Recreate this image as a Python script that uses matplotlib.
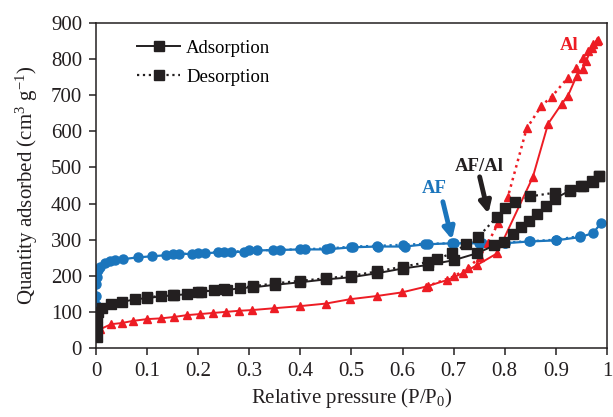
import matplotlib
matplotlib.use("Agg")
import matplotlib.pyplot as plt
from matplotlib.lines import Line2D

plt.rcParams['font.family'] = ['Liberation Serif', 'DejaVu Serif']
plt.rcParams['mathtext.fontset'] = 'custom'
plt.rcParams['mathtext.rm'] = 'Liberation Serif'
plt.rcParams['mathtext.it'] = 'Liberation Serif:italic'

# ---- data ----
af_ads_x = [0.0, 0.0, 0.0005, 0.002, 0.004, 0.008, 0.018, 0.027, 0.037, 0.053, 0.082, 0.11, 0.137,
            0.163, 0.188, 0.213, 0.239, 0.264, 0.29, 0.30, 0.347, 0.40, 0.45, 0.503, 0.552, 0.605,
            0.644, 0.697, 0.755, 0.80, 0.848, 0.90, 0.947, 0.973, 0.988]
af_ads_y = [119, 144, 177, 196, 215, 224, 235, 240, 243, 246, 251, 254, 257,
            260, 261, 262, 265, 265, 267, 270, 271, 273, 273, 279, 281, 281,
            287, 290, 290, 290, 295, 298, 307, 318, 345]
af_des_x = [0.947, 0.90, 0.85, 0.80, 0.75, 0.70, 0.65, 0.60, 0.55, 0.50, 0.458, 0.41, 0.36,
            0.315, 0.25, 0.20, 0.15]
af_des_y = [310, 300, 296, 292, 291, 290, 289, 286, 283, 281, 276, 274, 272,
            270, 266, 263, 259]

afal_ads_x = [0.002, 0.002, 0.002, 0.004, 0.012, 0.03, 0.05, 0.076, 0.10, 0.127, 0.153, 0.178,
              0.205, 0.231, 0.256, 0.282, 0.308, 0.35, 0.40, 0.45, 0.50, 0.55, 0.60, 0.65, 0.70,
              0.745, 0.78, 0.798, 0.816, 0.831, 0.847, 0.863, 0.881, 0.898, 0.928, 0.953, 0.973, 0.985]
afal_ads_y = [30, 58, 86, 99, 110, 121, 127, 135, 138, 143, 146, 149,
              155, 160, 160, 166, 168, 175, 182, 190, 196, 207, 220, 230, 243,
              262, 284, 293, 317, 334, 351, 372, 392, 414, 436, 450, 459, 475]
afal_des_x = [0.985, 0.97, 0.95, 0.928, 0.898, 0.85, 0.82, 0.80, 0.784, 0.748, 0.725, 0.696,
              0.667, 0.65, 0.60, 0.55, 0.50, 0.45, 0.40, 0.35, 0.308, 0.25, 0.20, 0.15, 0.10]
afal_des_y = [475, 462, 448, 438, 430, 420, 403, 387, 362, 307, 287, 262,
              246, 238, 225, 212, 200, 193, 186, 179, 171, 162, 156, 148, 140]

al_ads_x = [0.001, 0.008, 0.03, 0.05, 0.072, 0.10, 0.127, 0.153, 0.178, 0.204, 0.229, 0.254,
            0.28, 0.305, 0.348, 0.40, 0.45, 0.497, 0.55, 0.599, 0.646, 0.687, 0.718, 0.745,
            0.785, 0.855, 0.885, 0.912, 0.924, 0.941, 0.953, 0.96, 0.97, 0.98]
al_ads_y = [45, 52, 66, 69, 75, 80, 82, 86, 91, 94, 97, 100,
            103, 105, 110, 116, 123, 135, 144, 154, 170, 188, 207, 229,
            262, 473, 621, 677, 699, 754, 773, 796, 832, 851]
al_des_x = [0.983, 0.973, 0.963, 0.953, 0.94, 0.924, 0.892, 0.872, 0.843, 0.806, 0.787, 0.767,
            0.751, 0.728, 0.70, 0.65]
al_des_y = [853, 842, 823, 804, 776, 749, 696, 671, 608, 417, 345, 290,
            252, 221, 198, 172]

xticks = [0, 0.1, 0.2, 0.3, 0.4, 0.5, 0.6, 0.7, 0.8, 0.9, 1.0]
xtick_labels = ["0", "0.1", "0.2", "0.3", "0.4", "0.5", "0.6", "0.7", "0.8", "0.9", "1"]
yticks = [0, 100, 200, 300, 400, 500, 600, 700, 800, 900]

BLACK = '#231f20'
BLUE = '#1b75bc'
RED = '#ed1c24'

fig = plt.figure(figsize=(6.13, 4.17), dpi=100)
ax = fig.add_axes([0.1566, 0.1655, 0.8334, 0.7793])

# AF (blue)
ax.plot(af_des_x, af_des_y, ls=':', color=BLUE, lw=1.6, marker='o', ms=6.5, mec=BLUE, mfc=BLUE, zorder=2)
ax.plot(af_ads_x, af_ads_y, ls='-', color=BLUE, lw=1.6, marker='o', ms=6.5, mec=BLUE, mfc=BLUE, zorder=2)
# Al (red)
ax.plot(al_des_x, al_des_y, ls=':', color=RED, lw=1.8, marker='^', ms=5.5, mec=RED, mfc=RED, zorder=3)
ax.plot(al_ads_x, al_ads_y, ls='-', color=RED, lw=1.4, marker='^', ms=5.5, mec=RED, mfc=RED, zorder=3)
# AF/Al (black)
ax.plot(afal_des_x, afal_des_y, ls=':', color=BLACK, lw=1.6, marker='s', ms=6.5, mec=BLACK, mfc=BLACK, zorder=4)
ax.plot(afal_ads_x, afal_ads_y, ls='-', color=BLACK, lw=1.4, marker='s', ms=6.5, mec=BLACK, mfc=BLACK, zorder=4)

ax.set_xlim(0, 1)
ax.set_ylim(0, 900)
ax.set_xticks(xticks)
ax.set_xticklabels(xtick_labels)
ax.set_yticks(yticks)
ax.tick_params(direction='out', length=5, width=1.1, labelsize=15, colors=BLACK, pad=5)
for s in ax.spines.values():
    s.set_linewidth(1.1)
    s.set_color(BLACK)

ax.set_xlabel('Relative pressure (P/P$_0$)', fontsize=15, color=BLACK, labelpad=4)
ax.set_ylabel('Quantity adsorbed (cm$^3$ g$^{-1}$)', fontsize=15, color=BLACK, labelpad=8)

# annotations
ax.text(0.663, 442, 'AF', color=BLUE, fontsize=13.5, fontweight='bold', ha='center', va='center')
ax.text(0.75, 503, 'AF/Al', color=BLACK, fontsize=13.5, fontweight='bold', ha='center', va='center')
ax.text(0.927, 837, 'Al', color=RED, fontsize=13.5, fontweight='bold', ha='center', va='center')
ax.annotate('', xy=(0.697, 300), xytext=(0.679, 405),
            arrowprops=dict(arrowstyle='-|>', color=BLUE, lw=3.5, mutation_scale=17, shrinkA=0, shrinkB=0), zorder=6)
ax.annotate('', xy=(0.768, 372), xytext=(0.751, 474),
            arrowprops=dict(arrowstyle='-|>', color=BLACK, lw=3.5, mutation_scale=17, shrinkA=0, shrinkB=0), zorder=6)

handles = [Line2D([], [], ls='-', color=BLACK, lw=1.4, marker='s', ms=6.5),
           Line2D([], [], ls=':', color=BLACK, lw=1.6, marker='s', ms=6.5)]
ax.legend(handles, ['Adsorption', 'Desorption'], loc='upper left', bbox_to_anchor=(0.055, 0.99),
          frameon=False, fontsize=13.5, handlelength=2.3, handletextpad=0.3, labelspacing=0.65,
          borderpad=0.2)

fig.savefig('out.png', dpi=100)
